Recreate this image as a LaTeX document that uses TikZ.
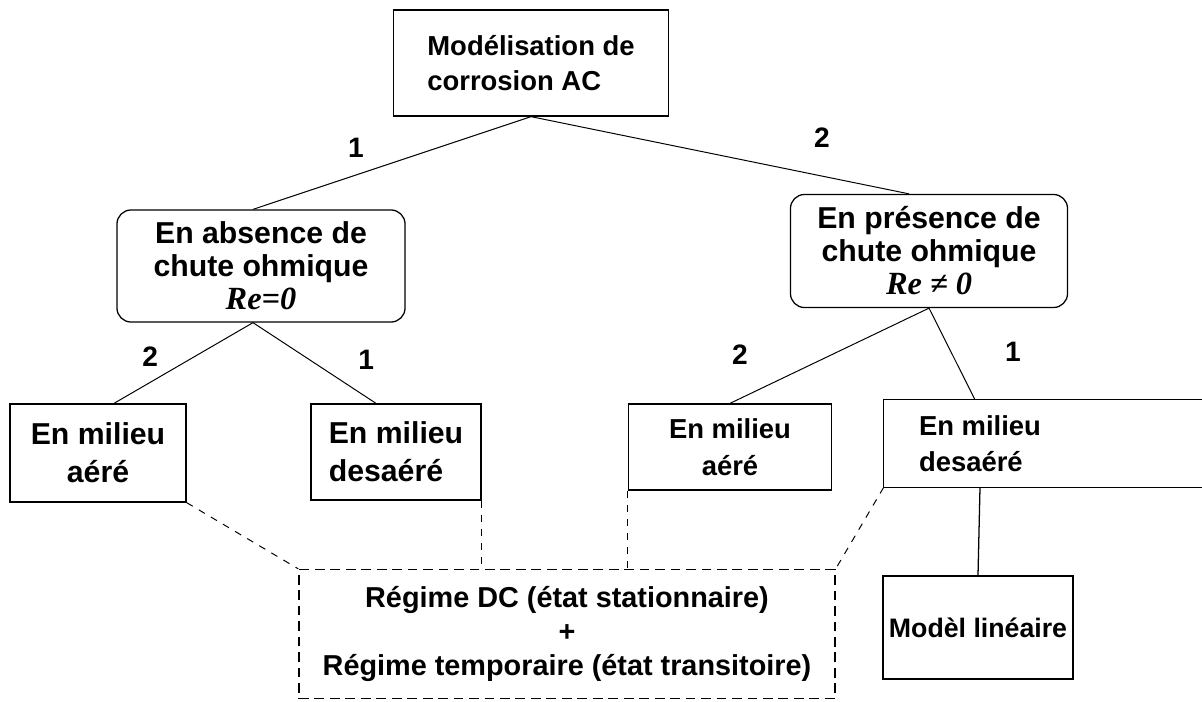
\documentclass[tikz,border=0pt]{standalone}
\usepackage{fontspec}
\setmainfont{Liberation Sans}
\newfontfamily\refont{Liberation Serif}
\usetikzlibrary{calc}

\begin{document}
\begin{tikzpicture}[
        x=0.025cm, y=-0.025cm,
        every node/.style={font=\bfseries},
        box/.style={rectangle, draw=black, line width=0.9pt, align=center, inner sep=2pt},
        roundbox/.style={box, rounded corners=0.35cm},
        dashbox/.style={box, dash pattern=on 7pt off 4pt},
        link/.style={draw=black, line width=0.7pt},
        dashlink/.style={link, dash pattern=on 5pt off 5pt},
        num/.style={font=\fontsize{20}{22}\selectfont\bfseries, inner sep=1pt}
        ]
        \useasboundingbox (0,0) rectangle (1202,702);

        % Root and the two cases of ohmic drop
        \node[box, minimum width=6.875cm, minimum height=2.65cm, align=left,
              font=\fontsize{19.5}{25}\selectfont\bfseries] (root) at (531,63)
              {Modélisation de\\corrosion AC};
        \node[roundbox, minimum width=7.2cm, minimum height=2.8cm,
              font=\fontsize{21.5}{23.5}\selectfont\bfseries] (absence) at (261,266)
              {En absence de\\chute ohmique\\{\refont\itshape\fontsize{23}{23}\selectfont Re=0}};
        \node[roundbox, minimum width=6.925cm, minimum height=2.825cm,
              font=\fontsize{21.5}{23.5}\selectfont\bfseries] (presence) at (929,251)
              {En présence de\\chute ohmique\\{\refont\itshape\fontsize{23}{23}\selectfont Re ≠ 0}};

        % Media, left and right branches
        \node[box, minimum width=4.4cm, minimum height=2.45cm,
              font=\fontsize{21.5}{27}\selectfont\bfseries] (aereL) at (98,453)
              {En milieu\\aéré};
        \node[box, minimum width=4.25cm, minimum height=2.4cm, align=left,
              font=\fontsize{21.5}{27}\selectfont\bfseries] (desaereL) at (396,452)
              {En milieu\\desaéré};
        \node[box, minimum width=5.075cm, minimum height=2.15cm,
              font=\fontsize{19.5}{26}\selectfont\bfseries] (aereR) at (730,447)
              {En milieu\\aéré};
        \node[minimum width=4.8cm, minimum height=2.175cm, align=left,
              font=\fontsize{19.5}{26}\selectfont\bfseries] (desaereR) at (980,443.5)
              {En milieu\\desaéré};
        \coordinate (edge) at (1215,0);
        \draw[line width=0.9pt] (edge |- desaereR.north) -- (desaereR.north west)
              -- (desaereR.south west) -- (edge |- desaereR.south);

        % Results
        \node[dashbox, minimum width=13.4cm, minimum height=3.225cm,
              font=\fontsize{20.5}{24.5}\selectfont\bfseries] (regime) at (567,634)
              {Régime DC (état stationnaire)\\+\\Régime temporaire (état transitoire)};
        \node[box, minimum width=4.75cm, minimum height=2.575cm,
              font=\fontsize{19}{22}\selectfont\bfseries] (lineaire) at (978,627.5)
              {Modèl linéaire};

        % Tree links
        \draw[link] (root.south) -- node[num, pos=0.63, above=11pt] {1} ([xshift=-0.2cm]absence.north);
        \draw[link] (root.south) -- node[num, pos=0.77, above=19pt] {2} ([xshift=-0.5cm]presence.north);
        \draw[link] ([xshift=-0.2cm]absence.south) -- node[num, pos=0.74, above=10pt] {2} ([xshift=0.4cm]aereL.north);
        \draw[link] ([xshift=-0.2cm]absence.south) -- node[num, pos=0.92, above=18pt] {1} ([xshift=-0.5cm]desaereL.north);
        \draw[link] (presence.south) -- node[num, pos=0.95, above=23pt] {2} (aereR.north);
        \draw[link] (presence.south) -- node[num, pos=0.48, right=37pt] {1} ([xshift=-0.125cm]desaereR.north);

        % Dashed links to the common regime box
        \draw[dashlink] (aereL.south east) -- (regime.north west);
        \draw[dashlink] (desaereL.south east) -- (desaereL.south east |- regime.north);
        \draw[dashlink] (aereR.south west) -- (aereR.south west |- regime.north);
        \draw[dashlink] (desaereR.south west) -- (regime.north east);
        \draw[link, line width=0.9pt] (desaereR.south) -- (lineaire.north);

    \end{tikzpicture}
\end{document}
